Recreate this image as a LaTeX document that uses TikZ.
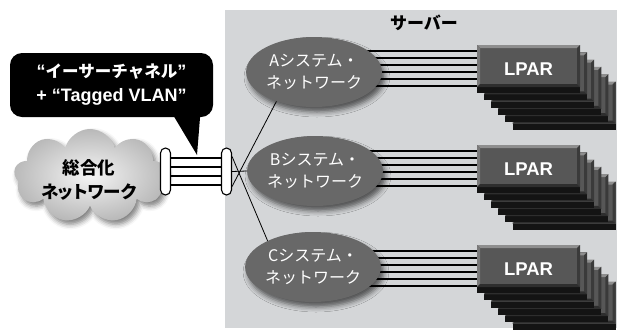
\documentclass[tikz,border=0pt]{standalone}
\usepackage{fontspec}
\newfontfamily\jp{Noto Sans CJK JP}
\newfontfamily\jpp{Noto Sans CJK JP}[RawFeature=+palt]
\newfontfamily\lat{Liberation Sans}
\usetikzlibrary{shapes.geometric,shapes.symbols,shadows.blur,calc}
\definecolor{bgray}{HTML}{D4D6D8}
\definecolor{ellfill}{HTML}{686868}
\definecolor{lpbody}{HTML}{575757}
\definecolor{lptop}{HTML}{8E8E8E}
\definecolor{lpleft}{HTML}{7A7A7A}
\definecolor{lpright}{HTML}{3A3A3A}
\definecolor{lpbev}{HTML}{2E2E2E}
\definecolor{lpbot}{HTML}{141414}
\newcommand\lparbox[2]{%
  \begin{scope}[shift={(#1,#2)}]
    \fill[lpbot] (0,42) rectangle (103,48);
    \fill[lpbody] (0,0) rectangle (103,42);
    \fill[lptop] (0,0) -- (103,0) -- (100,3) -- (3,3) -- cycle;
    \fill[lpleft] (0,0) -- (3,3) -- (3,39) -- (0,42) -- cycle;
    \fill[lpright] (103,0) -- (103,42) -- (100,39) -- (100,3) -- cycle;
    \fill[lpbev] (0,42) -- (3,39) -- (100,39) -- (103,42) -- cycle;
  \end{scope}}
\newcommand\lparstack[2]{%
  \foreach \i in {5,4,3,2,1,0}{\lparbox{#1+7.1*\i}{#2+7.3*\i}}}
\begin{document}
\begin{tikzpicture}[x=1pt,y=-1pt,
  sysell/.style={ellipse, fill=ellfill, minimum width=124pt, minimum height=70pt, inner sep=0pt,
    text=white, align=center, font=\jp\fontsize{16}{22}\selectfont,
    blur shadow={shadow xshift=3pt, shadow yshift=-5pt, shadow blur radius=5pt, shadow opacity=60}},
  lpartext/.style={rectangle, minimum width=103pt, minimum height=48pt, inner sep=0pt,
    text=white, font=\lat\bfseries\fontsize{18.5}{20}\selectfont},
  ring/.style={rectangle, rounded corners=5pt, draw=black, fill=white, line width=1.1pt,
    minimum width=10pt, minimum height=47pt, inner sep=0pt},
  cable/.style={line width=1.1pt, black},
  link/.style={line width=0.8pt, black},
  plink/.style={line width=1.5pt, black},
  callout/.style={rectangle, rounded corners=12pt, fill=black, text=white, minimum width=203pt,
    minimum height=64pt, align=center, inner sep=0pt, font=\lat\bfseries\fontsize{18}{24}\selectfont},
  cloudbox/.style={cloud, cloud puffs=9, aspect=1.65, minimum width=152pt, minimum height=94pt,
    inner color=gray!8, outer color=gray!55,
    blur shadow={shadow xshift=3pt, shadow yshift=-4pt, shadow blur radius=5pt, shadow opacity=50}},
  lbl/.style={inner sep=0pt, align=center}]
\useasboundingbox (0,0) rectangle (617,333);
% server area
\fill[bgray] (225,10) rectangle (617,328);
\node[lbl, font=\jp\bfseries\fontsize{17}{20}\selectfont] (srv) at (424,23) {サーバー};
% cloud
\node[cloudbox] (cl) at (90,176) {};
\node[lbl, font=\jpp\bfseries\fontsize{17.5}{23.5}\selectfont] (cltext) at (89,180) {総合化\\ネットワーク};
% cable between rings
\coordinate (c1) at (170,171.5);
\coordinate (c2) at (222,171.5);
\foreach \d in {-13.5,-4.5,4.5,13.5}
  \draw[cable] ($(c1)+(0,\d)$) -- ($(c2)+(0,\d)$);
\node[ring] (r1) at (165.5,171.5) {};
\node[ring] (r2) at (226.5,171.5) {};
% LPAR stacks
\lparstack{477}{45}
\lparstack{477}{145}
\lparstack{477}{245}
\node[lpartext] (lA) at (528.5,69) {LPAR};
\node[lpartext] (lB) at (528.5,169) {LPAR};
\node[lpartext] (lC) at (528.5,269) {LPAR};
% lines to LPAR
\foreach \n in {A,B,C}{
  \foreach \d in {-18,-11,-4,3,10,17}
    \draw[plink] ($(l\n.west)+(-112,\d)$) -- ($(l\n.west)+(0,\d)$);
}
% ellipses
\node[sysell] (eA) at (314,72) {Aシステム・\\ネットワーク};
\node[sysell] (eB) at (315,171) {Bシステム・\\ネットワーク};
\node[sysell] (eC) at (313,267) {Cシステム・\\ネットワーク};
% links from ring
\draw[link] ($(r2.east)+(0,15)$) -- (eA.218);
\draw[link] (r2.east) -- (eB.west);
\draw[link] ($(r2.east)+(0,-15)$) -- (eC.150);
% callout
\node[callout] (co) at (111.5,85) {%
  “{\jp\bfseries\fontsize{16.5}{24}\selectfont イーサーチャネル}”\\
  + “Tagged VLAN”};
\coordinate (tip) at (197,155);
\fill[black] ($(co.south east)+(-40,-2)$) -- ($(co.south east)+(-13,-2)$) -- (tip) -- cycle;
\end{tikzpicture}
\end{document}
